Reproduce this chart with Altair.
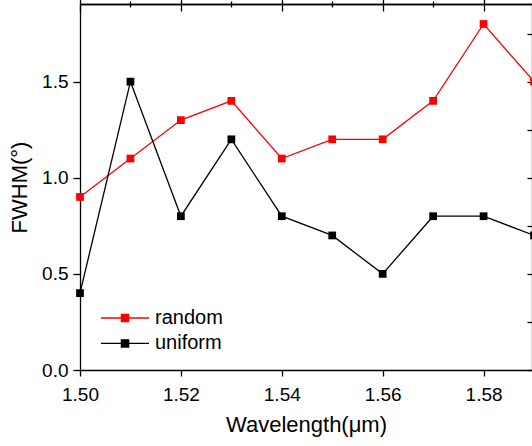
import altair as alt
import pandas as pd

# Wavelength sweep (µm) and measured FWHM (degrees) for two layouts
wavelength = [1.50, 1.51, 1.52, 1.53, 1.54, 1.55, 1.56, 1.57, 1.58, 1.59]
fwhm_random = [0.9, 1.1, 1.3, 1.4, 1.1, 1.2, 1.2, 1.4, 1.8, 1.5]
fwhm_uniform = [0.4, 1.5, 0.8, 1.2, 0.8, 0.7, 0.5, 0.8, 0.8, 0.7]
series = ["random", "uniform"]
series_colors = ["#ff0000", "#000000"]

x_major = [1.50, 1.52, 1.54, 1.56, 1.58]
x_minor = [1.51, 1.53, 1.55, 1.57]
y_major = [0.0, 0.5, 1.0, 1.5]
y_minor = [0.25, 0.75, 1.25, 1.75]
y_all = [0.0, 0.25, 0.5, 0.75, 1.0, 1.25, 1.5, 1.75]

df = pd.DataFrame({
    "wavelength": wavelength * 2,
    "fwhm": fwhm_random + fwhm_uniform,
    "series": [series[0]] * len(wavelength) + [series[1]] * len(wavelength),
})

FONT = "Liberation Sans"
x_scale = alt.Scale(domain=[1.50, 1.5896], nice=False, zero=False)
y_scale = alt.Scale(domain=[0, 1.904], nice=False, zero=False)


def xenc(axis):
    return alt.X("wavelength:Q", scale=x_scale, axis=axis)


def yenc(axis):
    return alt.Y("fwhm:Q", scale=y_scale, axis=axis)


legend = alt.Legend(
    title=None,
    orient="none",
    legendX=35,
    legendY=304,
    padding=0,
    symbolType="M-6,0H6M-0.9,-0.9H0.9V0.9H-0.9Z",
    symbolSize=64,
    symbolStrokeWidth=1.3,
    symbolOpacity=1,
    labelOffset=20,
    labelFont=FONT,
    labelFontSize=20,
    labelColor="black",
    rowPadding=5.4,
)

color = alt.Color(
    "series:N",
    scale=alt.Scale(domain=series, range=series_colors),
    legend=legend,
)

main_x_axis = alt.Axis(
    values=x_major, format=".2f", tickSize=6, labelPadding=9, labelFlush=False,
    title="Wavelength(μm)", titlePadding=10,
)
main_y_axis = alt.Axis(
    values=y_major, format=".1f", tickSize=7, labelPadding=5,
    title="FWHM(°)", titlePadding=10,
)

base = alt.Chart(df).encode(x=xenc(main_x_axis), y=yenc(main_y_axis), color=color)
lines = base.mark_line(strokeWidth=1.3)
points = base.mark_point(shape="square", filled=True, size=60, opacity=1)

ghost = alt.Chart(df).mark_point(opacity=0)

# minor ticks on the bottom and left axes
minor_ticks = ghost.encode(
    x=xenc(alt.Axis(values=x_minor, tickSize=3, labels=False, domain=False, title=None)),
    y=yenc(alt.Axis(values=y_minor, tickSize=4, labels=False, domain=False, title=None)),
)

# top border line and inward ticks on the right side
top_border = ghost.encode(
    x=xenc(alt.Axis(orient="top", ticks=False, labels=False, domain=True, title=None)),
    y=yenc(alt.Axis(orient="right", values=y_all, offset=-5, tickSize=5,
                    labels=False, domain=False, title=None)),
)

# inward ticks along the top
top_major = ghost.encode(
    x=xenc(alt.Axis(orient="top", values=x_major, offset=-7, tickSize=7,
                    labels=False, domain=False, title=None)),
    y=yenc(None),
)
top_minor = ghost.encode(
    x=xenc(alt.Axis(orient="top", values=x_minor, offset=-3, tickSize=3,
                    labels=False, domain=False, title=None)),
    y=yenc(None),
)

chart = (
    alt.layer(lines, points, minor_ticks, top_border, top_major, top_minor)
    .resolve_axis(x="independent", y="independent")
    .properties(
        width=452,
        height=366,
        autosize=alt.AutoSizeParams(type="none"),
        padding={"left": 80, "top": 4, "right": 0, "bottom": 76},
        background="white",
    )
    .configure_view(stroke=None)
    .configure_axis(
        grid=False,
        domainColor="black",
        domainWidth=1.3,
        tickColor="black",
        tickWidth=1.3,
        labelFont=FONT,
        labelFontSize=19,
        labelColor="black",
        titleFont=FONT,
        titleFontSize=22,
        titleFontWeight="normal",
        titleColor="black",
    )
)

chart.save("out.html", embed_options={"renderer": "svg", "actions": False})
